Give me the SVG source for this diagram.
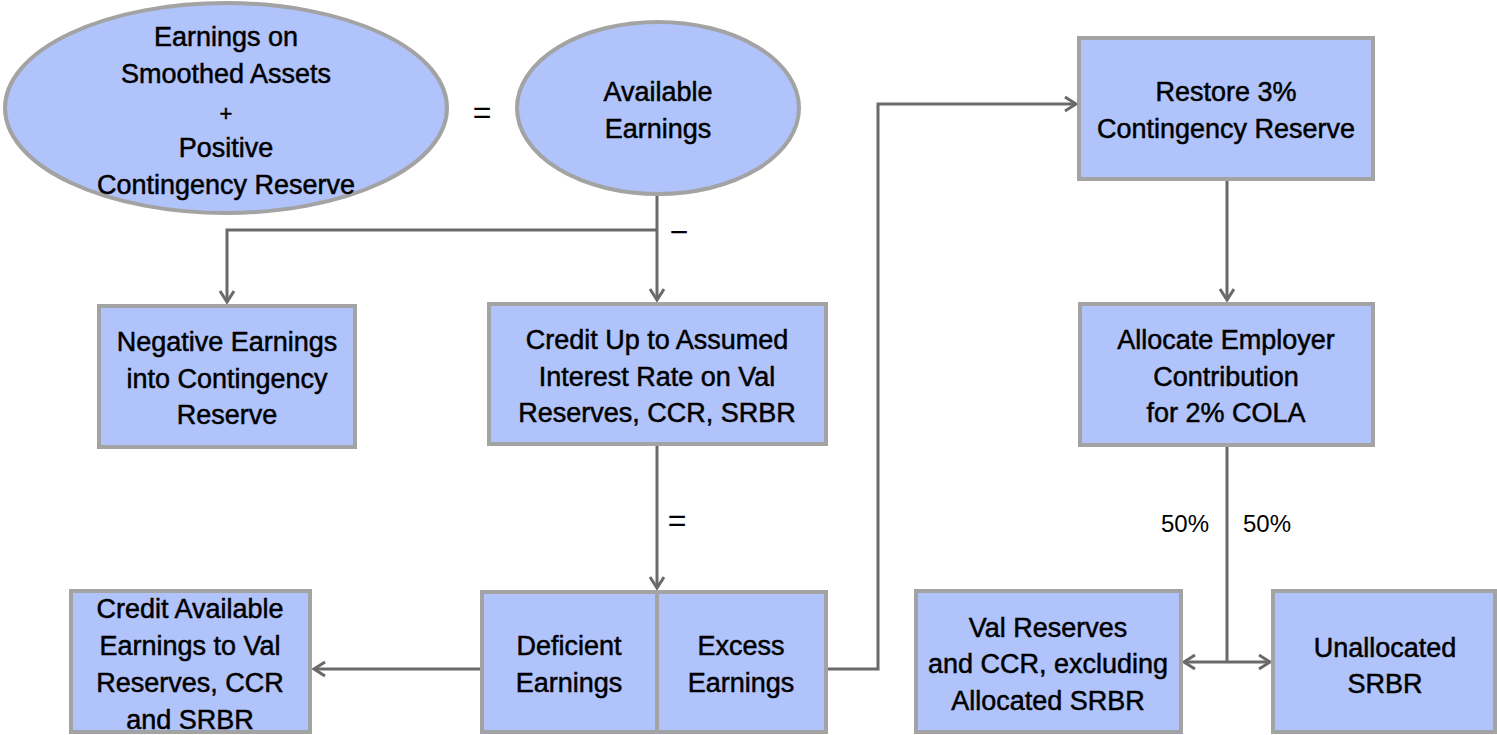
<svg xmlns="http://www.w3.org/2000/svg" width="1497" height="735" viewBox="0 0 1497 735">
<style>
.node{fill:#b0c3fb;stroke:#a3a3a3;stroke-width:4}
.t{font-family:"Liberation Sans",Arial,sans-serif;font-size:27px;fill:#000;stroke:#000;stroke-width:0.5;text-anchor:middle}
.s{font-family:"Liberation Sans",Arial,sans-serif;font-size:24px;fill:#000;text-anchor:middle}
.op{font-family:"Liberation Sans",Arial,sans-serif;font-size:32px;fill:#000;text-anchor:middle}
.c{fill:none;stroke:#6a6a6a;stroke-width:3}
</style>
<defs>
<marker id="ah" markerUnits="userSpaceOnUse" markerWidth="16" markerHeight="18" refX="12" refY="8" orient="auto">
<path d="M1,1 L12,8 L1,15" fill="none" stroke="#6a6a6a" stroke-width="3"/>
</marker>
</defs>
<g id="connectors">
<path class="c" d="M657 196 V300" marker-end="url(#ah)"/>
<path class="c" d="M657 230 H227 V302" marker-end="url(#ah)"/>
<path class="c" d="M657 446 V588" marker-end="url(#ah)"/>
<path class="c" d="M480 669 H314" marker-end="url(#ah)"/>
<path class="c" d="M828 669 H878 V104 H1076" marker-end="url(#ah)"/>
<path class="c" d="M1227 181 V300" marker-end="url(#ah)"/>
<path class="c" d="M1227 447 V662"/>
<path class="c" d="M1227 662 H1184" marker-end="url(#ah)"/>
<path class="c" d="M1227 662 H1270" marker-end="url(#ah)"/>
<text class="op" x="482" y="123">=</text>
<text class="op" x="679" y="243">−</text>
<text class="op" x="677" y="531">=</text>
<text class="s" x="1185" y="532">50%</text>
<text class="s" x="1267" y="532">50%</text>
</g>
<g id="earnings-smoothed">
<ellipse class="node" cx="226" cy="108" rx="221" ry="105"/>
<text class="t" x="226" y="46">Earnings on</text>
<text class="t" x="226" y="83">Smoothed Assets</text>
<text class="t" x="226" y="121" style="font-size:22px">+</text>
<text class="t" x="226" y="157">Positive</text>
<text class="t" x="226" y="194">Contingency Reserve</text>
</g>
<g id="available-earnings">
<ellipse class="node" cx="658" cy="108" rx="141" ry="86"/>
<text class="t" x="658" y="101">Available</text>
<text class="t" x="658" y="138">Earnings</text>
</g>
<g id="negative-earnings">
<rect class="node" x="99" y="306" width="256" height="141"/>
<text class="t" x="227" y="351">Negative Earnings</text>
<text class="t" x="227" y="388">into Contingency</text>
<text class="t" x="227" y="424">Reserve</text>
</g>
<g id="credit-up">
<rect class="node" x="489" y="304" width="337" height="140"/>
<text class="t" x="657" y="349">Credit Up to Assumed</text>
<text class="t" x="657" y="386">Interest Rate on Val</text>
<text class="t" x="657" y="422">Reserves, CCR, SRBR</text>
</g>
<g id="deficient-excess">
<rect class="node" x="482" y="592" width="344" height="140"/>
<line x1="657" y1="592" x2="657" y2="732" stroke="#a3a3a3" stroke-width="4"/>
<text class="t" x="569" y="655">Deficient</text>
<text class="t" x="569" y="692">Earnings</text>
<text class="t" x="741" y="655">Excess</text>
<text class="t" x="741" y="692">Earnings</text>
</g>
<g id="credit-available">
<rect class="node" x="71" y="591" width="239" height="141"/>
<text class="t" x="190" y="618">Credit Available</text>
<text class="t" x="190" y="655">Earnings to Val</text>
<text class="t" x="190" y="692">Reserves, CCR</text>
<text class="t" x="190" y="729">and SRBR</text>
</g>
<g id="restore">
<rect class="node" x="1079" y="38" width="294" height="141"/>
<text class="t" x="1226" y="101">Restore 3%</text>
<text class="t" x="1226" y="138">Contingency Reserve</text>
</g>
<g id="allocate">
<rect class="node" x="1080" y="304" width="293" height="141"/>
<text class="t" x="1226" y="349">Allocate Employer</text>
<text class="t" x="1226" y="386">Contribution</text>
<text class="t" x="1226" y="422">for 2% COLA</text>
</g>
<g id="val-reserves">
<rect class="node" x="916" y="591" width="265" height="141"/>
<text class="t" x="1048" y="637">Val Reserves</text>
<text class="t" x="1048" y="673">and CCR, excluding</text>
<text class="t" x="1048" y="710">Allocated SRBR</text>
</g>
<g id="unallocated">
<rect class="node" x="1273" y="591" width="222" height="141"/>
<text class="t" x="1385" y="657">Unallocated</text>
<text class="t" x="1385" y="693">SRBR</text>
</g>
</svg>
